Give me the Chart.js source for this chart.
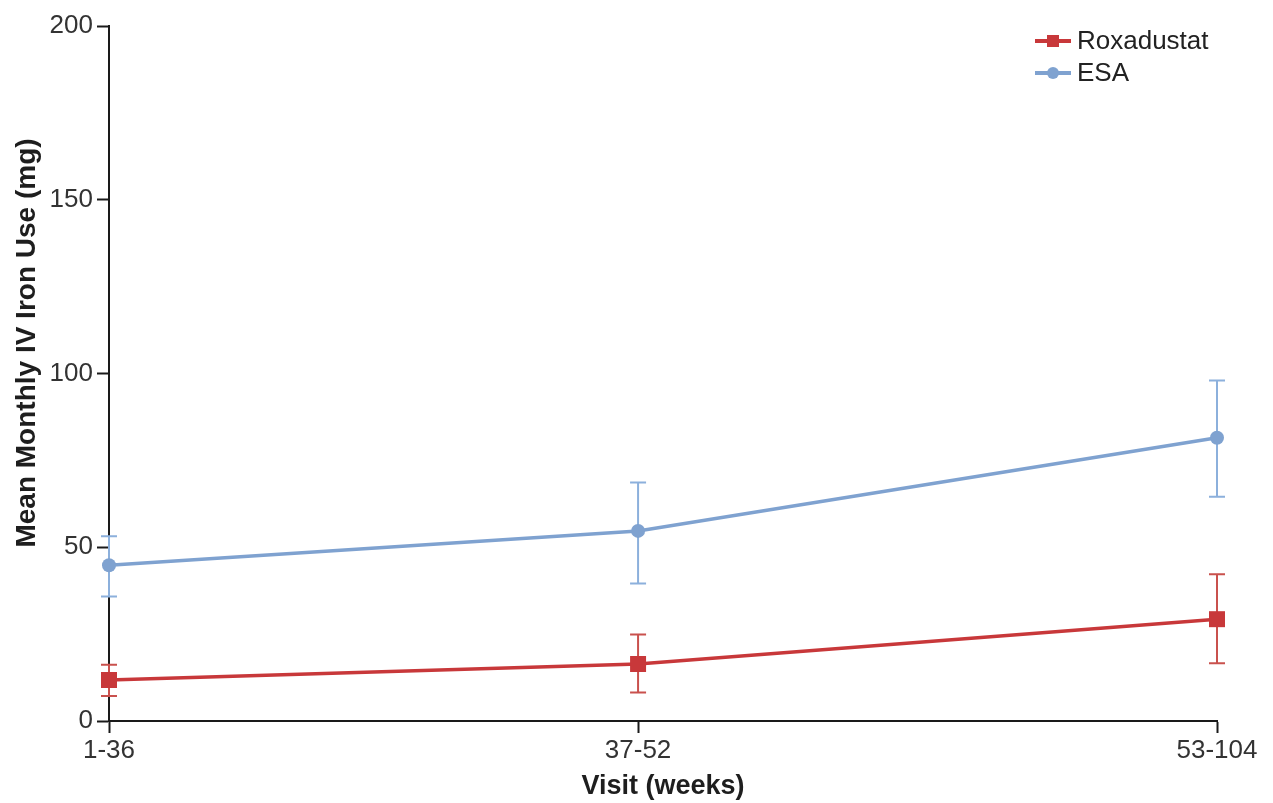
<!DOCTYPE html>
<html>
<head>
<meta charset="utf-8">
<script src="https://cdn.jsdelivr.net/npm/chart.js@4/dist/chart.umd.min.js"></script>
<style>
  html, body { margin: 0; padding: 0; background: #ffffff; }
  #wrap { width: 1273px; height: 803px; }
</style>
</head>
<body>
<div id="wrap"><canvas id="chart" width="1273" height="803"></canvas></div>
<script>
// Visit windows (weeks) and where each sits along the x axis
const visitLabels = ['1-36', '37-52', '53-104'];
const visitPositions = [1, 1.955, 3];

// Mean monthly IV iron use (mg) with error-bar limits
const roxadustatMean  = [11.8, 16.4, 29.3];
const roxadustatUpper = [16.2, 24.9, 42.2];
const roxadustatLower = [7.2, 8.2, 16.6];

const esaMean  = [44.8, 54.7, 81.5];
const esaUpper = [53.2, 68.6, 98.0];
const esaLower = [35.8, 39.6, 64.5];

const yTicks = [0, 50, 100, 150, 200];

const RED = '#c8383a';
const RED_BAR = '#c9514d';
const BLUE = '#7fa2d0';
const BLUE_BAR = '#8cb0dc';
const FONT = 'Liberation Sans, Arial, Helvetica, sans-serif';

function toPoints(values) {
  return values.map((v, i) => ({ x: visitPositions[i], y: v }));
}

// Vertical error bars with caps, drawn beneath the lines
const errorBars = {
  id: 'errorBars',
  beforeDatasetsDraw(chart) {
    const { ctx, scales: { x, y } } = chart;
    chart.data.datasets.forEach(ds => {
      const cap = 8;
      ctx.save();
      ctx.strokeStyle = ds.barColor;
      ctx.lineWidth = 2;
      ds.upper.forEach((u, i) => {
        const px = x.getPixelForValue(visitPositions[i]);
        const top = y.getPixelForValue(u);
        const bot = y.getPixelForValue(ds.lower[i]);
        ctx.beginPath();
        ctx.moveTo(px, top); ctx.lineTo(px, bot);
        ctx.moveTo(px - cap, top); ctx.lineTo(px + cap, top);
        ctx.moveTo(px - cap, bot); ctx.lineTo(px + cap, bot);
        ctx.stroke();
      });
      ctx.restore();
    });
  }
};

// Legend entries: a short line with the series marker in its middle
const lineLegend = {
  id: 'lineLegend',
  afterDraw(chart) {
    const { ctx } = chart;
    const x0 = 1035, x1 = 1071, textX = 1077;
    const rows = [41, 73];
    chart.data.datasets.forEach((ds, i) => {
      const cy = rows[i];
      const cx = (x0 + x1) / 2;
      ctx.save();
      ctx.strokeStyle = ds.borderColor;
      ctx.lineWidth = 4;
      ctx.beginPath();
      ctx.moveTo(x0, cy); ctx.lineTo(x1, cy);
      ctx.stroke();
      ctx.fillStyle = ds.borderColor;
      if (ds.pointStyle === 'rect') {
        ctx.fillRect(cx - 6, cy - 6, 12, 12);
      } else {
        ctx.beginPath();
        ctx.arc(cx, cy, 6, 0, Math.PI * 2);
        ctx.fill();
      }
      ctx.fillStyle = '#222';
      ctx.font = '26px ' + FONT;
      ctx.textBaseline = 'middle';
      ctx.textAlign = 'left';
      ctx.fillText(ds.label, textX, cy + 1);
      ctx.restore();
    });
  }
};

// Rotated y-axis title
const yTitle = {
  id: 'yTitle',
  afterDraw(chart) {
    const { ctx } = chart;
    ctx.save();
    ctx.translate(27, 343);
    ctx.rotate(-Math.PI / 2);
    ctx.fillStyle = '#1e1e1e';
    ctx.font = 'bold 28px ' + FONT;
    ctx.textAlign = 'center';
    ctx.textBaseline = 'middle';
    ctx.fillText('Mean Monthly IV Iron Use (mg)', 0, 0);
    ctx.restore();
  }
};

new Chart(document.getElementById('chart'), {
  type: 'line',
  data: {
    datasets: [
      {
        label: 'Roxadustat',
        data: toPoints(roxadustatMean),
        upper: roxadustatUpper,
        lower: roxadustatLower,
        barColor: RED_BAR,
        borderColor: RED,
        backgroundColor: RED,
        borderWidth: 3.5,
        pointStyle: 'rect',
        pointRadius: 11.3,
        pointHoverRadius: 11.3,
        pointBorderWidth: 0,
        tension: 0,
        clip: false
      },
      {
        label: 'ESA',
        data: toPoints(esaMean),
        upper: esaUpper,
        lower: esaLower,
        barColor: BLUE_BAR,
        borderColor: BLUE,
        backgroundColor: BLUE,
        borderWidth: 3.5,
        pointStyle: 'circle',
        pointRadius: 7,
        pointHoverRadius: 7,
        pointBorderWidth: 0,
        tension: 0,
        clip: false
      }
    ]
  },
  options: {
    responsive: false,
    animation: false,
    devicePixelRatio: 1,
    layout: { padding: { top: 26, right: 56, left: 0, bottom: 0 } },
    plugins: {
      legend: { display: false },
      tooltip: { enabled: false }
    },
    scales: {
      x: {
        type: 'linear',
        min: visitPositions[0],
        max: visitPositions[visitPositions.length - 1],
        afterBuildTicks: s => { s.ticks = visitPositions.map(v => ({ value: v })); },
        afterFit: s => { s.height = 82; },
        ticks: {
          autoSkip: false,
          maxRotation: 0,
          padding: 2,
          color: '#333',
          font: { family: FONT, size: 26 },
          callback: (v, i) => visitLabels[i]
        },
        grid: { drawOnChartArea: false, tickLength: 12, tickColor: '#1a1a1a', tickWidth: 2 },
        border: { color: '#1a1a1a', width: 2 },
        title: {
          display: true,
          text: 'Visit (weeks)',
          color: '#1e1e1e',
          font: { family: FONT, size: 27, weight: 'bold' },
          padding: { top: 0, bottom: 0 }
        }
      },
      y: {
        min: 0,
        max: 200,
        afterBuildTicks: s => { s.ticks = yTicks.map(v => ({ value: v })); },
        afterFit: s => { s.width = 109; },
        ticks: {
          padding: 4,
          color: '#333',
          font: { family: FONT, size: 26 }
        },
        grid: { drawOnChartArea: false, tickLength: 12, tickColor: '#1a1a1a', tickWidth: 2 },
        border: { color: '#1a1a1a', width: 2 }
      }
    }
  },
  plugins: [errorBars, lineLegend, yTitle]
});
</script>
</body>
</html>
